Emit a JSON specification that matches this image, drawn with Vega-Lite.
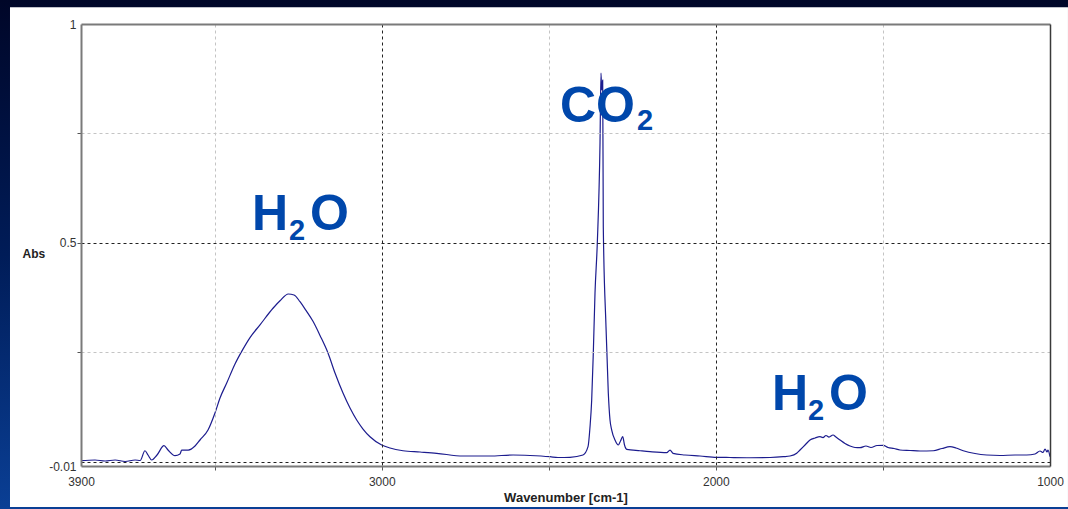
{
  "$schema": "https://vega.github.io/schema/vega-lite/v6.json",
  "width": 969,
  "height": 442,
  "autosize": {"type": "none"},
  "padding": {"left": 81, "top": 24, "right": 18, "bottom": 43},
  "background": "#001a4d",
  "config": {"view": {"stroke": null}, "font": "Liberation Sans"},
  "datasets": {
    "spectrum": [
      {"wn": 3900, "abs": 0.0021}, {"wn": 3858, "abs": 0.0037}, {"wn": 3828, "abs": 0.0014}, {"wn": 3798, "abs": 0.0037},
      {"wn": 3768, "abs": 0.0003}, {"wn": 3738, "abs": 0.0037}, {"wn": 3723, "abs": 0.0026}, {"wn": 3708.5, "abs": 0.0249},
      {"wn": 3699.5, "abs": 0.0151}, {"wn": 3688.4, "abs": 0.0037}, {"wn": 3672.5, "abs": 0.0151}, {"wn": 3651.6, "abs": 0.0364},
      {"wn": 3639.6, "abs": 0.0265}, {"wn": 3618.7, "abs": 0.0135}, {"wn": 3603.7, "abs": 0.0174}, {"wn": 3598.6, "abs": 0.0265},
      {"wn": 3578.9, "abs": 0.0265}, {"wn": 3558.8, "abs": 0.0357}, {"wn": 3543.9, "abs": 0.0494}, {"wn": 3519.9, "abs": 0.0722},
      {"wn": 3499, "abs": 0.1111}, {"wn": 3484, "abs": 0.1454}, {"wn": 3463.9, "abs": 0.1796}, {"wn": 3439.1, "abs": 0.2231},
      {"wn": 3415.2, "abs": 0.2571}, {"wn": 3394.2, "abs": 0.2835}, {"wn": 3364.3, "abs": 0.3125}, {"wn": 3325.4, "abs": 0.3505},
      {"wn": 3304.4, "abs": 0.3675}, {"wn": 3279.6, "abs": 0.383}, {"wn": 3262.5, "abs": 0.3807}, {"wn": 3244.6, "abs": 0.3654},
      {"wn": 3226.6, "abs": 0.3455}, {"wn": 3205.7, "abs": 0.3206}, {"wn": 3184.7, "abs": 0.2883}, {"wn": 3160.8, "abs": 0.2482},
      {"wn": 3139.8, "abs": 0.2025}, {"wn": 3115.9, "abs": 0.1568}, {"wn": 3094.9, "abs": 0.1225}, {"wn": 3074.9, "abs": 0.0951},
      {"wn": 3056, "abs": 0.0745}, {"wn": 3035.1, "abs": 0.0569}, {"wn": 3000.1, "abs": 0.038}, {"wn": 2975.2, "abs": 0.0311},
      {"wn": 2936.3, "abs": 0.0249}, {"wn": 2885.5, "abs": 0.022}, {"wn": 2835.5, "abs": 0.019}, {"wn": 2756.8, "abs": 0.0128},
      {"wn": 2676, "abs": 0.0128}, {"wn": 2607, "abs": 0.0151}, {"wn": 2556.3, "abs": 0.014}, {"wn": 2496.4, "abs": 0.0112},
      {"wn": 2472.5, "abs": 0.0094}, {"wn": 2436.5, "abs": 0.0099}, {"wn": 2397.6, "abs": 0.0151}, {"wn": 2382.6, "abs": 0.0341},
      {"wn": 2376.6, "abs": 0.0798}, {"wn": 2371.6, "abs": 0.1408}, {"wn": 2366.8, "abs": 0.2482}, {"wn": 2361.7, "abs": 0.3853},
      {"wn": 2354.8, "abs": 0.4996}, {"wn": 2346.7, "abs": 0.7281}, {"wn": 2343.8, "abs": 0.888}, {"wn": 2341.7, "abs": 0.8492},
      {"wn": 2338.7, "abs": 0.872}, {"wn": 2336.9, "abs": 0.5368}, {"wn": 2328.8, "abs": 0.3083}, {"wn": 2321.9, "abs": 0.1568},
      {"wn": 2316.8, "abs": 0.0951}, {"wn": 2311.7, "abs": 0.0722}, {"wn": 2301.9, "abs": 0.0494}, {"wn": 2291.9, "abs": 0.038},
      {"wn": 2285.4, "abs": 0.0471}, {"wn": 2278.8, "abs": 0.0569}, {"wn": 2273.4, "abs": 0.038}, {"wn": 2266.8, "abs": 0.0281},
      {"wn": 2227, "abs": 0.0249}, {"wn": 2197.1, "abs": 0.0227}, {"wn": 2147.1, "abs": 0.0204}, {"wn": 2137.2, "abs": 0.0265},
      {"wn": 2128.3, "abs": 0.019}, {"wn": 2092.4, "abs": 0.0151}, {"wn": 2047.5, "abs": 0.0128}, {"wn": 1997.5, "abs": 0.0099},
      {"wn": 1957.7, "abs": 0.0094}, {"wn": 1897.9, "abs": 0.0089}, {"wn": 1837.9, "abs": 0.0094}, {"wn": 1798.2, "abs": 0.0112},
      {"wn": 1778.2, "abs": 0.0128}, {"wn": 1758.1, "abs": 0.019}, {"wn": 1748.2, "abs": 0.0265}, {"wn": 1733.2, "abs": 0.038},
      {"wn": 1718.3, "abs": 0.0494}, {"wn": 1703.3, "abs": 0.054}, {"wn": 1688.3, "abs": 0.0569}, {"wn": 1679.4, "abs": 0.055},
      {"wn": 1670.4, "abs": 0.0597}, {"wn": 1661.4, "abs": 0.0562}, {"wn": 1649.4, "abs": 0.0608}, {"wn": 1640.5, "abs": 0.0562},
      {"wn": 1628.5, "abs": 0.0494}, {"wn": 1613.5, "abs": 0.0414}, {"wn": 1598.6, "abs": 0.0357}, {"wn": 1583.6, "abs": 0.0323},
      {"wn": 1568.6, "abs": 0.0318}, {"wn": 1550.7, "abs": 0.0357}, {"wn": 1535.7, "abs": 0.0323}, {"wn": 1517.8, "abs": 0.0368},
      {"wn": 1498.9, "abs": 0.0373}, {"wn": 1484.8, "abs": 0.0323}, {"wn": 1466.9, "abs": 0.03}, {"wn": 1448.9, "abs": 0.0265},
      {"wn": 1418.9, "abs": 0.0254}, {"wn": 1389, "abs": 0.0243}, {"wn": 1349.2, "abs": 0.0249}, {"wn": 1323.2, "abs": 0.03},
      {"wn": 1299.3, "abs": 0.0341}, {"wn": 1281.3, "abs": 0.0311}, {"wn": 1259.5, "abs": 0.0249}, {"wn": 1224.4, "abs": 0.0185},
      {"wn": 1189.4, "abs": 0.0151}, {"wn": 1149.6, "abs": 0.014}, {"wn": 1104.7, "abs": 0.0151}, {"wn": 1069.7, "abs": 0.0151},
      {"wn": 1044.8, "abs": 0.0174}, {"wn": 1029.9, "abs": 0.0243}, {"wn": 1020.9, "abs": 0.0208}, {"wn": 1014.9, "abs": 0.0288},
      {"wn": 1008.9, "abs": 0.022}, {"wn": 1006, "abs": 0.0265}, {"wn": 1000, "abs": 0.0112}
    ],
    "labels": [
      {"t": "H", "wn": 3388.2, "abs": 0.529, "sub": false},
      {"t": "2", "wn": 3277.5, "abs": 0.506, "sub": true},
      {"t": "O", "wn": 3214.6, "abs": 0.529, "sub": false},
      {"t": "CO", "wn": 2466.5, "abs": 0.776, "sub": false},
      {"t": "2", "wn": 2236, "abs": 0.758, "sub": true},
      {"t": "H", "wn": 1831.9, "abs": 0.118, "sub": false},
      {"t": "2", "wn": 1724.3, "abs": 0.095, "sub": true},
      {"t": "O", "wn": 1661.4, "abs": 0.118, "sub": false}
    ]
  },
  "layer": [
    {
      "data": {"values": [{}]},
      "mark": {"type": "rect", "fill": {"gradient": "linear", "x1": 0, "y1": 0, "x2": 0, "y2": 1, "stops": [{"offset": 0, "color": "#000628"}, {"offset": 0.5, "color": "#001c58"}, {"offset": 1, "color": "#0a3f95"}]}},
      "encoding": {
        "x": {"datum": 4142.4, "type": "quantitative", "scale": {"domain": [1000, 3900], "reverse": true, "nice": false, "zero": false}, "axis": null},
        "x2": {"datum": 946.2},
        "y": {"datum": 1.0548, "type": "quantitative", "scale": {"domain": [-0.01, 1], "nice": false, "zero": false}, "axis": null},
        "y2": {"datum": -0.1083}
      }
    },
    {
      "data": {"values": [{}]},
      "mark": {"type": "rect", "fill": "#ffffff"},
      "encoding": {
        "x": {"datum": 4112.5, "type": "quantitative", "scale": {"domain": [1000, 3900], "reverse": true, "nice": false, "zero": false}, "axis": null},
        "x2": {"datum": 946.2},
        "y": {"datum": 1.038, "type": "quantitative", "scale": {"domain": [-0.01, 1], "nice": false, "zero": false}, "axis": null},
        "y2": {"datum": -0.1037}
      }
    },
    {
      "data": {"name": "spectrum"},
      "mark": {"type": "line", "color": "#1c1c8e", "strokeWidth": 1.2, "interpolate": "monotone"},
      "encoding": {
        "x": {
          "field": "wn", "type": "quantitative",
          "scale": {"domain": [1000, 3900], "reverse": true, "nice": false, "zero": false},
          "axis": {
            "orient": "bottom", "zindex": 1,
            "values": [3900, 3500, 3000, 2500, 2000, 1500, 1000],
            "labelExpr": "indexof([3900, 3000, 2000, 1000], datum.value) >= 0 ? '' + datum.value : ''",
            "labelFlush": false, "labelOverlap": false,
            "labelFont": "Liberation Sans", "labelFontSize": 12, "labelColor": "#333333", "labelPadding": 6,
            "grid": true, "gridDash": [3, 3], "gridWidth": 1,
            "gridColor": {"condition": {"test": "datum.value == 3000 || datum.value == 2000", "value": "#222222"}, "value": "#c4c4c4"},
            "gridOpacity": {"condition": {"test": "datum.value == 3900 || datum.value == 1000", "value": 0}, "value": 1},
            "ticks": true, "tickSize": 4,
            "tickColor": {"condition": {"test": "datum.value == 3900 || datum.value == 1000", "value": "transparent"}, "value": "#555555"},
            "domainColor": "#7a7a7a", "domainWidth": 2,
            "title": "Wavenumber [cm-1]", "titleFont": "Liberation Sans", "titleFontSize": 13, "titleFontWeight": "bold", "titleColor": "#222222", "titlePadding": 4
          }
        },
        "y": {
          "field": "abs", "type": "quantitative",
          "scale": {"domain": [-0.01, 1], "nice": false, "zero": false},
          "axis": {
            "orient": "left", "zindex": 1,
            "values": [-0.01, 0, 0.25, 0.5, 0.75, 1],
            "labelExpr": "datum.value == -0.01 ? '-0.01' : datum.value == 0.5 ? '0.5' : datum.value == 1 ? '1' : ''",
            "labelOverlap": false, "labelFlush": false,
            "labelFont": "Liberation Sans", "labelFontSize": 12, "labelColor": "#333333", "labelPadding": 1,
            "grid": true, "gridDash": [3, 3], "gridWidth": 1,
            "gridColor": {"condition": {"test": "datum.value == 0 || datum.value == 0.5", "value": "#222222"}, "value": "#c4c4c4"},
            "gridOpacity": {"condition": {"test": "datum.value == -0.01 || datum.value == 1", "value": 0}, "value": 1},
            "ticks": true, "tickSize": 4,
            "tickColor": {"condition": {"test": "datum.value == -0.01 || datum.value == 1 || datum.value == 0", "value": "transparent"}, "value": "#555555"},
            "domainColor": "#7a7a7a", "domainWidth": 2,
            "title": "Abs", "titleAngle": 0, "titleX": -59, "titleY": 229, "titleAlign": "left", "titleBaseline": "middle",
            "titleFont": "Liberation Sans", "titleFontSize": 12, "titleFontWeight": "bold", "titleColor": "#222222"
          }
        }
      }
    },
    {
      "data": {"name": "labels"},
      "transform": [{"filter": "!datum.sub"}],
      "mark": {"type": "text", "font": "Liberation Sans", "fontWeight": "bold", "fontSize": 50, "color": "#0047ab", "align": "left", "baseline": "alphabetic"},
      "encoding": {
        "x": {
          "field": "wn", "type": "quantitative",
          "scale": {"domain": [1000, 3900], "reverse": true, "nice": false, "zero": false},
          "axis": {"orient": "top", "zindex": 1, "labels": false, "ticks": false, "grid": false, "title": null, "domainColor": "#7a7a7a", "domainWidth": 2}
        },
        "y": {
          "field": "abs", "type": "quantitative",
          "scale": {"domain": [-0.01, 1], "nice": false, "zero": false},
          "axis": {"orient": "right", "zindex": 1, "labels": false, "ticks": false, "grid": false, "title": null, "domainColor": "#3a3a3a", "domainWidth": 1.5}
        },
        "text": {"field": "t"}
      }
    },
    {
      "data": {"name": "labels"},
      "transform": [{"filter": "datum.sub"}],
      "mark": {"type": "text", "font": "Liberation Sans", "fontWeight": "bold", "fontSize": 29, "color": "#0047ab", "align": "left", "baseline": "alphabetic"},
      "encoding": {
        "x": {"field": "wn", "type": "quantitative", "scale": {"domain": [1000, 3900], "reverse": true, "nice": false, "zero": false}, "axis": null},
        "y": {"field": "abs", "type": "quantitative", "scale": {"domain": [-0.01, 1], "nice": false, "zero": false}, "axis": null},
        "text": {"field": "t"}
      }
    }
  ],
  "resolve": {"axis": {"x": "independent", "y": "independent"}}
}
